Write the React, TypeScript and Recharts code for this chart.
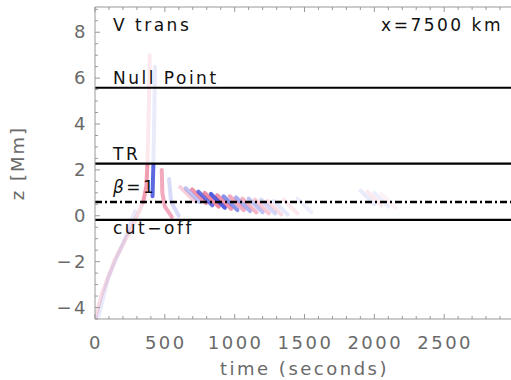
import React from 'react';
import { LineChart, Line, XAxis, YAxis, ReferenceLine } from 'recharts';

// axis ticks
const xTicks = [0, 100, 200, 300, 400, 500, 600, 700, 800, 900, 1000, 1100, 1200, 1300, 1400, 1500, 1600, 1700, 1800, 1900, 2000, 2100, 2200, 2300, 2400, 2500, 2600, 2700, 2800, 2900];
const xMajor = [0, 500, 1000, 1500, 2000, 2500];
const yTicks = [-4.5, -4, -3.5, -3, -2.5, -2, -1.5, -1, -0.5, 0, 0.5, 1, 1.5, 2, 2.5, 3, 3.5, 4, 4.5, 5, 5.5, 6, 6.5, 7, 7.5, 8, 8.5, 9];
const yMajor = [-4, -2, 0, 2, 4, 6, 8];

// horizontal layers (z in Mm)
const nullPointZ = 5.58;
const trZ = 2.27;
const betaZ = 0.6;
const cutoffZ = -0.18;

// velocity wave streaks (time s, height Mm)
type Streak = { id: string; c: 'r' | 'b'; o: number; w: number; pts: { t: number; z: number }[] };
const streaks: Streak[] = [
  { id: 's1', c: 'r', o: 0.16, w: 4, pts: [{ t: 0, z: -4.5 }, { t: 50, z: -3.4 }, { t: 143, z: -1.9 }, { t: 265, z: -0.5 }, { t: 345, z: 0.6 }] },
  { id: 's2', c: 'b', o: 0.1, w: 4, pts: [{ t: 20, z: -4.5 }, { t: 95, z: -2.7 }, { t: 200, z: -1.2 }, { t: 287, z: 0.2 }] },
  { id: 's3', c: 'r', o: 0.45, w: 4, pts: [{ t: 345, z: 0.6 }, { t: 368, z: 1.3 }, { t: 375, z: 2.2 }] },
  { id: 's4', c: 'r', o: 0.1, w: 4, pts: [{ t: 375, z: 2.2 }, { t: 385, z: 4.5 }, { t: 392, z: 7.0 }] },
  { id: 's5', c: 'b', o: 0.75, w: 4, pts: [{ t: 412, z: 0.85 }, { t: 415, z: 1.6 }, { t: 418, z: 2.2 }] },
  { id: 's6', c: 'b', o: 0.1, w: 4, pts: [{ t: 418, z: 2.2 }, { t: 425, z: 4.5 }, { t: 430, z: 6.5 }] },
  { id: 's7', c: 'r', o: 0.4, w: 4, pts: [{ t: 478, z: 2.0 }, { t: 482, z: 1.0 }, { t: 500, z: 0.4 }, { t: 550, z: -0.05 }] },
  { id: 's8', c: 'b', o: 0.18, w: 4, pts: [{ t: 530, z: 1.6 }, { t: 545, z: 0.6 }, { t: 600, z: 0.0 }] },
  { id: 'c1', c: 'r', o: 0.22, w: 4, pts: [{ t: 610, z: 1.25 }, { t: 710, z: 0.65 }] },
  { id: 'c2', c: 'b', o: 0.3, w: 4, pts: [{ t: 650, z: 1.2 }, { t: 750, z: 0.6 }] },
  { id: 'c3', c: 'r', o: 0.5, w: 4, pts: [{ t: 695, z: 1.15 }, { t: 795, z: 0.55 }] },
  { id: 'c4', c: 'b', o: 0.7, w: 4, pts: [{ t: 740, z: 1.05 }, { t: 840, z: 0.45 }] },
  { id: 'c5', c: 'r', o: 0.55, w: 4, pts: [{ t: 785, z: 1.0 }, { t: 885, z: 0.4 }] },
  { id: 'c6', c: 'b', o: 0.8, w: 4, pts: [{ t: 830, z: 0.95 }, { t: 930, z: 0.35 }] },
  { id: 'c7', c: 'r', o: 0.5, w: 4, pts: [{ t: 875, z: 0.9 }, { t: 975, z: 0.3 }] },
  { id: 'c8', c: 'b', o: 0.55, w: 4, pts: [{ t: 920, z: 0.85 }, { t: 1020, z: 0.25 }] },
  { id: 'c9', c: 'r', o: 0.4, w: 4, pts: [{ t: 965, z: 0.85 }, { t: 1065, z: 0.25 }] },
  { id: 'c10', c: 'b', o: 0.4, w: 4, pts: [{ t: 1010, z: 0.8 }, { t: 1110, z: 0.2 }] },
  { id: 'c11', c: 'r', o: 0.35, w: 4, pts: [{ t: 1055, z: 0.75 }, { t: 1155, z: 0.15 }] },
  { id: 'c12', c: 'b', o: 0.3, w: 4, pts: [{ t: 1100, z: 0.75 }, { t: 1200, z: 0.15 }] },
  { id: 'c13', c: 'r', o: 0.25, w: 4, pts: [{ t: 1145, z: 0.7 }, { t: 1245, z: 0.1 }] },
  { id: 'c14', c: 'b', o: 0.2, w: 4, pts: [{ t: 1190, z: 0.7 }, { t: 1290, z: 0.1 }] },
  { id: 'c15', c: 'r', o: 0.16, w: 4, pts: [{ t: 1235, z: 0.65 }, { t: 1335, z: 0.05 }] },
  { id: 'c16', c: 'b', o: 0.12, w: 4, pts: [{ t: 1280, z: 0.65 }, { t: 1380, z: 0.05 }] },
  { id: 'c17', c: 'r', o: 0.1, w: 4, pts: [{ t: 1350, z: 0.7 }, { t: 1450, z: 0.1 }] },
  { id: 'c18', c: 'b', o: 0.08, w: 4, pts: [{ t: 1450, z: 0.75 }, { t: 1550, z: 0.15 }] },
  { id: 'c19', c: 'b', o: 0.1, w: 4, pts: [{ t: 1900, z: 1.1 }, { t: 2000, z: 0.5 }] },
  { id: 'c20', c: 'r', o: 0.1, w: 4, pts: [{ t: 1950, z: 1.05 }, { t: 2050, z: 0.45 }] },
  { id: 'c21', c: 'b', o: 0.08, w: 4, pts: [{ t: 2000, z: 1.0 }, { t: 2100, z: 0.4 }] },
  { id: 'c22', c: 'r', o: 0.06, w: 4, pts: [{ t: 2050, z: 0.95 }, { t: 2150, z: 0.35 }] },
];

const RED = 'rgb(225,40,90)';
const BLUE = 'rgb(40,55,215)';
const FONT = 'DejaVu Sans';
const TICK_COLOR = '#999';
const LABEL_COLOR = '#6a6a6a';

const isMajor = (v: number, list: number[]) => list.some((m) => Math.abs(m - v) < 1e-6);
const fmt = (v: number) => (v < 0 ? '\u2212' + Math.abs(v) : String(v));

const YTick = (props: any) => {
  const { x, y, payload } = props;
  const major = isMajor(payload.value, yMajor);
  return (
    <g>
      <line x1={x} x2={x + (major ? 5 : 3)} y1={y} y2={y} stroke={TICK_COLOR} strokeWidth={1} />
      {major && (
        <text x={x - 7} y={y + 6} textAnchor="end" fontFamily={FONT} fontSize={18} letterSpacing={2.5} fill={LABEL_COLOR}>
          {fmt(payload.value)}
        </text>
      )}
    </g>
  );
};

const XTickBottom = (props: any) => {
  const { x, y, payload } = props;
  const major = isMajor(payload.value, xMajor);
  return (
    <g>
      <line x1={x} x2={x} y1={y} y2={y - (major ? 5 : 3)} stroke={TICK_COLOR} strokeWidth={1} />
      {major && (
        <text x={x + 1} y={y + 30} textAnchor="middle" fontFamily={FONT} fontSize={18} letterSpacing={2.5} fill={LABEL_COLOR}>
          {fmt(payload.value)}
        </text>
      )}
    </g>
  );
};

const XTickTop = (props: any) => {
  const { x, y, payload } = props;
  const major = isMajor(payload.value, xMajor);
  return <line x1={x} x2={x} y1={y} y2={y + (major ? 5 : 3)} stroke={TICK_COLOR} strokeWidth={1} />;
};

const textStyle = { fontFamily: FONT, fontSize: 17, letterSpacing: 2.5, fill: '#111' };

const TopTexts = (props: any) => {
  const vb = props.viewBox || { x: 95, y: 0, width: 419, height: 7 };
  return (
    <g>
      <text x={vb.x + 18} y={31} {...textStyle}>V trans</text>
      <text x={503} y={31} textAnchor="end" {...textStyle}>x=7500 km</text>
    </g>
  );
};

const lineLabel = (text: React.ReactNode, dy: number) => (props: any) => {
  const vb = props.viewBox;
  return (
    <text x={vb.x + 18} y={vb.y + dy} {...textStyle}>
      {text}
    </text>
  );
};

export default function App() {
  return (
    <div style={{ position: 'absolute', left: 0, top: 0, width: 511, height: 380, overflow: 'hidden', background: '#fff' }}>
      <LineChart width={520} height={380} margin={{ top: 0, right: 6, bottom: 0, left: 0 }}>
        <XAxis
          xAxisId="b"
          dataKey="t"
          type="number"
          domain={[0, 3000]}
          allowDataOverflow
          ticks={xTicks}
          interval={0}
          height={61}
          tickSize={0}
          tickMargin={0}
          tickLine={false}
          axisLine={{ stroke: TICK_COLOR, strokeWidth: 1 }}
          tick={(p: any) => <XTickBottom {...p} />}
          label={{ value: 'time (seconds)', position: 'insideBottom', offset: 5, fill: LABEL_COLOR, fontFamily: FONT, fontSize: 18, letterSpacing: 2.5 } as any}
        />
        <XAxis
          xAxisId="t"
          dataKey="t"
          type="number"
          orientation="top"
          domain={[0, 3000]}
          allowDataOverflow
          ticks={xTicks}
          interval={0}
          height={7}
          tickSize={0}
          tickMargin={0}
          tickLine={false}
          axisLine={{ stroke: TICK_COLOR, strokeWidth: 1 }}
          tick={(p: any) => <XTickTop {...p} />}
          label={(p: any) => <TopTexts {...p} />}
        />
        <YAxis
          yAxisId="l"
          dataKey="z"
          type="number"
          domain={[-4.5, 9.1]}
          allowDataOverflow
          ticks={yTicks}
          interval={0}
          width={95}
          tickSize={0}
          tickMargin={0}
          tickLine={false}
          axisLine={{ stroke: TICK_COLOR, strokeWidth: 1 }}
          tick={(p: any) => <YTick {...p} />}
          label={{ value: 'z [Mm]', angle: -90, position: 'insideLeft', offset: 18, fill: LABEL_COLOR, fontFamily: FONT, fontSize: 18, letterSpacing: 2, style: { textAnchor: 'middle' } } as any}
        />
        {streaks.map((s) => (
          <Line
            key={s.id}
            xAxisId="b"
            yAxisId="l"
            data={s.pts}
            dataKey="z"
            type="linear"
            stroke={s.c === 'r' ? RED : BLUE}
            strokeOpacity={s.o}
            strokeWidth={s.w}
            strokeLinecap="round"
            strokeLinejoin="round"
            dot={false}
            activeDot={false}
            isAnimationActive={false}
          />
        ))}
        <ReferenceLine xAxisId="b" yAxisId="l" y={nullPointZ} stroke="#000" strokeWidth={2} label={lineLabel('Null Point', -4)} />
        <ReferenceLine xAxisId="b" yAxisId="l" y={trZ} stroke="#000" strokeWidth={2.3} label={lineLabel('TR', -4)} />
        <ReferenceLine
          xAxisId="b"
          yAxisId="l"
          y={betaZ}
          stroke="#000"
          strokeWidth={2.6}
          strokeDasharray="7 3 2 3"
          label={lineLabel(
            <>
              <tspan fontStyle="italic">β</tspan>
              <tspan>=1</tspan>
            </>,
            -9
          )}
        />
        <ReferenceLine xAxisId="b" yAxisId="l" y={cutoffZ} stroke="#000" strokeWidth={2.3} label={lineLabel('cut\u2212off', 14)} />
      </LineChart>
    </div>
  );
}
